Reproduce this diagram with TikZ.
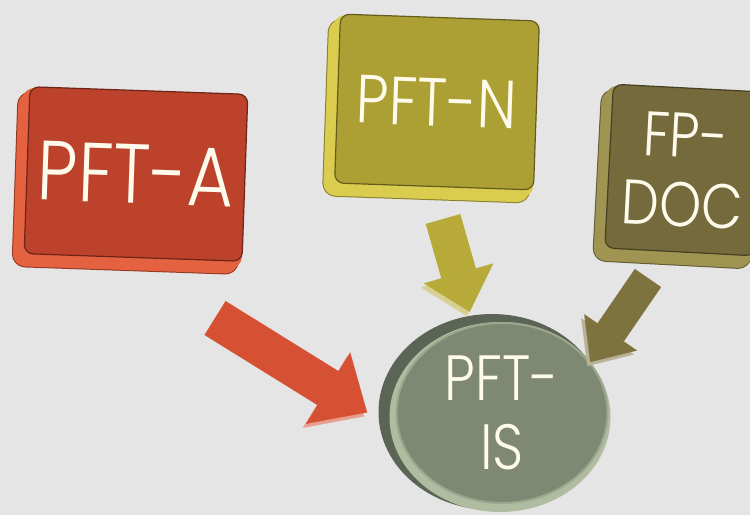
\documentclass[tikz,border=0pt]{standalone}
\usepackage{fontspec}
\newfontfamily\boxfont[FakeStretch=0.85]{Poppins Light}
\usetikzlibrary{shapes.geometric,arrows.meta}
\definecolor{bg}{RGB}{229,229,229}
\definecolor{redface}{RGB}{188,66,44}
\definecolor{redrim}{RGB}{228,98,64}
\definecolor{reddark}{RGB}{110,36,22}
\definecolor{redarr}{RGB}{214,80,52}
\definecolor{yelface}{RGB}{172,160,52}
\definecolor{yelrim}{RGB}{218,204,78}
\definecolor{yeldark}{RGB}{100,92,30}
\definecolor{yelarr}{RGB}{184,170,56}
\definecolor{olvface}{RGB}{116,106,60}
\definecolor{olvrim}{RGB}{160,148,82}
\definecolor{olvdark}{RGB}{70,64,34}
\definecolor{olvarr}{RGB}{126,114,62}
\definecolor{isface}{RGB}{126,136,114}
\definecolor{isrim}{RGB}{176,188,160}
\definecolor{isdark}{RGB}{92,100,86}
\definecolor{txt}{RGB}{255,251,236}
\begin{document}
\begin{tikzpicture}[x=1pt,y=1pt,line join=round,
	box/.style={rectangle,rounded corners=9pt,inner sep=0pt,text=txt,align=center,
		fill=#1face,draw=#1dark,line width=1.2pt,
		preaction={fill=#1rim,draw=#1dark!70!#1rim,line width=9pt,transform canvas={shift={(-8pt,-9pt)}}},
		preaction={fill=#1rim,draw=#1rim,line width=7pt,transform canvas={shift={(-8pt,-9pt)}}},
		preaction={fill=#1rim,draw=#1rim,line width=7pt,transform canvas={shift={(-4pt,-4.5pt)}}}},
	disc/.style={ellipse,inner sep=0pt,text=txt,align=center,
		fill=isface,draw=isrim!60!isface,line width=2pt,
		preaction={draw=isdark,line width=16pt,transform canvas={shift={(-10pt,1pt)}}},
		preaction={draw=isrim,line width=10pt,transform canvas={shift={(-2pt,-4pt)}}}},
	fat/.style n args={4}{line width=#1,draw=#2,
		-{Triangle[length=#3,width=#4,line width=0.1pt]},
		preaction={draw=#2!55!white,transform canvas={shift={(-3pt,-4pt)}}}}]
	\useasboundingbox (0,0) rectangle (750,515);
	\fill[bg] (0,0) rectangle (750,515);
	%\draw[gray!40,step=50] (0,0) grid (750,515);
	\node[box=red,minimum width=218pt,minimum height=167pt,rotate=-2,
		font={\boxfont\fontsize{84}{84}\selectfont}] (pfta) at (136,341) {PFT-A};
	\node[box=yel,minimum width=199pt,minimum height=169pt,rotate=-2,
		font={\boxfont\fontsize{68}{68}\selectfont}] (pftn) at (437,413) {PFT-N};
	\node[box=olv,minimum width=150pt,minimum height=164pt,rotate=-3,
		font={\boxfont\fontsize{63}{69}\selectfont}] (fpdoc) at (684,345) {FP-\\DOC};
	\node[disc,minimum width=211pt,minimum height=180pt,
		font={\boxfont\fontsize{64}{69}\selectfont}] (pftis) at (502,102) {PFT-\\IS};
	% arrows into PFT-IS
	\coordinate (redtail) at (215,197);
	\coordinate (yeltail) at (443,296);
	\coordinate (olvtail) at (648,237);
	\draw[fat={40pt}{redarr}{46pt}{84pt},shorten >=36pt] (redtail) -- (pftis.190);
	\draw[fat={36pt}{yelarr}{40pt}{72pt},shorten >=14pt] (yeltail) -- (pftis.108);
	\draw[fat={32pt}{olvarr}{36pt}{64pt}] (olvtail) -- (pftis.30);
\end{tikzpicture}
\end{document}
